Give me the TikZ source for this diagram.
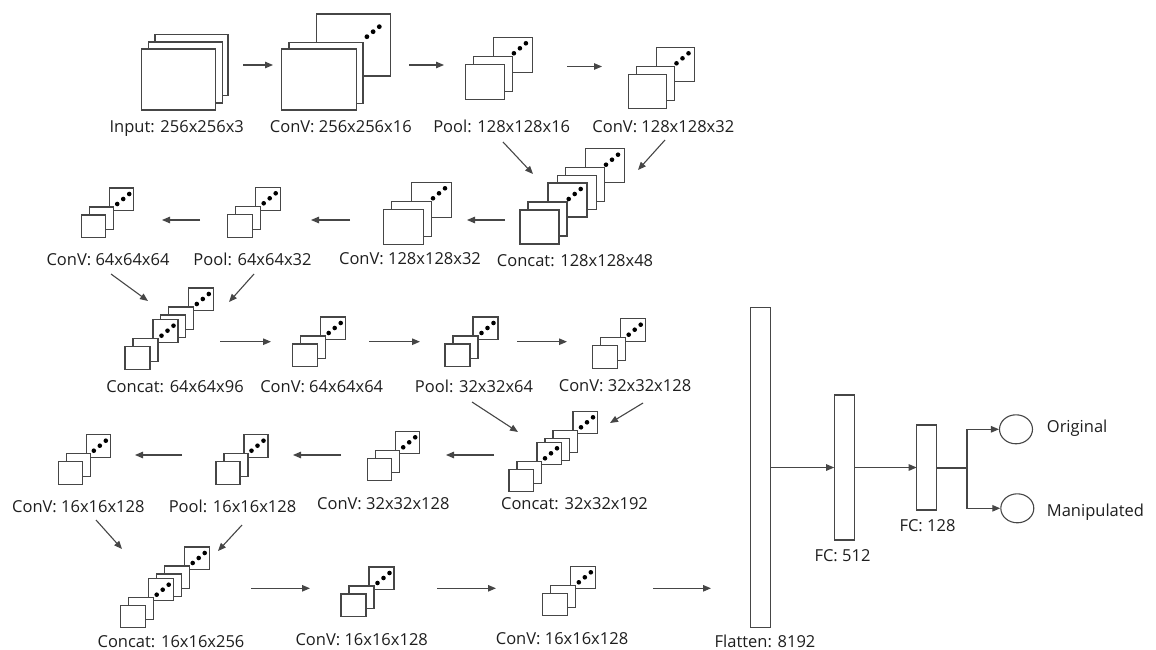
\documentclass[tikz,border=0pt]{standalone}
\usepackage{fontspec}
\setmainfont{Open Sans}
\usetikzlibrary{arrows.meta,shapes.geometric}
\definecolor{ln}{RGB}{70,70,70}
\definecolor{tx}{RGB}{30,30,30}
\tikzset{
  sq/.style={draw=ln, fill=white, line width=1.1pt, inner sep=0pt, outer sep=0pt, anchor=north west},
  bar/.style={draw=ln, fill=white, line width=1.1pt, inner sep=0pt, outer sep=0pt, minimum width=20pt},
  outn/.style={draw=ln, ellipse, line width=1.1pt, inner sep=0pt, minimum width=33pt, minimum height=29pt},
  arr/.style={draw=ln, line width=1.1pt, -{Triangle[length=8pt,width=6.5pt]}},
  lbl/.style={text=tx, font=\fontsize{16.5}{18}\selectfont, anchor=base, inner sep=0pt},
}
% stack: name, x, y (front top-left), w, h, dot x offset
\newcommand{\mystk}[6]{%
  \node[sq, minimum width=#4pt, minimum height=#5pt] (#1c) at (#2+28,#3-27) {};
  \fill (#1c.north east) ++(#6,6) circle (2.3pt) ++(-6,5) circle (2.3pt) ++(-6,5) circle (2.3pt);
  \node[sq, minimum width=#4pt, minimum height=#5pt] (#1b) at (#2+8,#3-8) {};
  \node[sq, minimum width=#4pt, minimum height=#5pt] (#1a) at (#2,#3) {};
}
\begin{document}
\begin{tikzpicture}[x=1pt,y=-1pt]
\useasboundingbox (0,0) rectangle (1156,650);

% ---------- Row 1 ----------
\node[sq, minimum width=73pt, minimum height=61pt] (in3) at (155,34.5) {};
\node[sq, minimum width=74pt, minimum height=61pt] (in2) at (148.3,42) {};
\node[sq, minimum width=74pt, minimum height=61pt] (in1) at (141.7,49) {};
\node[lbl] (lin) at (176.7,132) {Input: 256x256x3};

\node[sq, minimum width=74pt, minimum height=62pt] (cv1c) at (316.7,14) {};
\fill (cv1c.north east) ++(-11.4,12.7) circle (2.4pt) ++(-6.2,5) circle (2.4pt) ++(-6.2,5) circle (2.4pt);
\node[sq, minimum width=74pt, minimum height=61pt] (cv1b) at (289,42.3) {};
\node[sq, minimum width=75pt, minimum height=61pt] (cv1a) at (281.7,49) {};
\node[lbl] (lcv1) at (340.8,132) {ConV: 256x256x16};

\mystk{pl1}{465.7}{64.3}{38.5}{35}{-6.3}
\node[lbl] (lpl1) at (501.7,132) {Pool: 128x128x16};
\mystk{cv2}{628.3}{74.3}{38.5}{34}{-6.3}
\node[lbl] (lcv2) at (663.3,132) {ConV: 128x128x32};

% ---------- Row 2 ----------
\mystk{cc1B}{557.3}{175.7}{39}{34}{-6.3}
\mystk{cc1A}{520}{210}{39}{34}{-6.3}
\node[lbl] (lcc1) at (575,266) {Concat: 128x128x48};
\mystk{cv3}{383.3}{209.3}{40}{35}{-6.3}
\node[lbl] (lcv3) at (410,264.3) {ConV: 128x128x32};
\mystk{pl2}{227.7}{214.3}{24.5}{23}{-4.5}
\node[lbl] (lpl2) at (252.5,265) {Pool: 64x64x32};
\mystk{cv4}{81.7}{215}{24}{22.5}{-4.5}
\node[lbl] (lcv4) at (108,265) {ConV: 64x64x64};

% ---------- Row 3 ----------
\mystk{cc2B}{160.3}{315}{25}{22.5}{-4.5}
\mystk{cc2A}{125}{346.7}{25}{22.5}{-4.5}
\node[lbl] (lcc2) at (175,392) {Concat: 64x64x96};
\mystk{cv5}{292.7}{344}{24.5}{22.5}{-4.5}
\node[lbl] (lcv5) at (321.7,392.7) {ConV: 64x64x64};
\mystk{pl3}{445}{344}{25}{22.5}{-4.5}
\node[lbl] (lpl3) at (474,392) {Pool: 32x32x64};
\mystk{cv6}{592.7}{345.7}{24.5}{22.5}{-4.5}
\node[lbl] (lcv6) at (625,391.7) {ConV: 32x32x128};

% ---------- Row 4 ----------
\mystk{cc3B}{545}{438.3}{24.5}{22.5}{-4.5}
\mystk{cc3A}{509}{469.3}{24.5}{22.5}{-4.5}
\node[lbl] (lcc3) at (574.5,509) {Concat: 32x32x192};
\mystk{cv7}{367.7}{458.3}{24}{22.5}{-4.5}
\node[lbl] (lcv7) at (383.3,509.3) {ConV: 32x32x128};
\mystk{pl4}{216}{461.7}{24}{22.5}{-4.5}
\node[lbl] (lpl4) at (232.5,512.7) {Pool: 16x16x128};
\mystk{cv8}{58.3}{461.7}{24}{22.5}{-4.5}
\node[lbl] (lcv8) at (78.3,512.7) {ConV: 16x16x128};

% ---------- Row 5 ----------
\mystk{cc4B}{156.7}{574}{24.5}{22.5}{-4.5}
\mystk{cc4A}{120.7}{605.7}{24.5}{22}{-4.5}
\node[lbl] (lcc4) at (171,647) {Concat: 16x16x256};
\mystk{cv9}{341}{594}{25}{22.5}{-4.5}
\node[lbl] (lcv9) at (361.7,645.5) {ConV: 16x16x128};
\mystk{cv10}{542.3}{593.3}{25}{22.5}{-4.5}
\node[lbl] (lcv10) at (562,644) {ConV: 16x16x128};

% ---------- Dense part ----------
\node[bar, minimum height=320pt] (flat) at (760.7,467.5) {};
\node[lbl] (lflat) at (765,647.7) {Flatten: 8192};
\node[bar, minimum height=145pt] (fc1) at (844.2,467.5) {};
\node[lbl] (lfc1) at (842.5,561.7) {FC: 512};
\node[bar, minimum height=85pt] (fc2) at (926.7,467.5) {};
\node[lbl] (lfc2) at (927.5,531) {FC: 128};
\node[outn] (orig) at (1016,429.3) {};
\node[outn] (manip) at (1017.3,508.3) {};
\node[lbl, anchor=base west] (lorig) at (1046.7,432.7) {Original};
\node[lbl, anchor=base west] (lmanip) at (1046.7,516) {Manipulated};

% ---------- Connectors ----------
\coordinate (a1s) at (243,65);   \coordinate (a1e) at (273,65);
\coordinate (a2s) at (409,65);   \coordinate (a2e) at (444,65);
\coordinate (a3s) at (567,66.5); \coordinate (a3e) at (602,66.5);
\coordinate (d1s) at (503,142);  \coordinate (d1e) at (533,174);
\coordinate (d2s) at (665,140);  \coordinate (d2e) at (638,170);
\coordinate (b1s) at (505,220);  \coordinate (b1e) at (467,220);
\coordinate (b2s) at (350,220);  \coordinate (b2e) at (311,220);
\coordinate (b3s) at (200,220);  \coordinate (b3e) at (162,220);
\coordinate (d3s) at (111,274);  \coordinate (d3e) at (148,301);
\coordinate (d4s) at (254,274);  \coordinate (d4e) at (229,302);
\coordinate (c1s) at (220,341.7); \coordinate (c1e) at (271,341.7);
\coordinate (c2s) at (369,341.7); \coordinate (c2e) at (420,341.7);
\coordinate (c3s) at (517,341.7); \coordinate (c3e) at (567,341.7);
\coordinate (d5s) at (472,402);  \coordinate (d5e) at (518,432);
\coordinate (d6s) at (643,403);  \coordinate (d6e) at (610,423);
\coordinate (e1s) at (494,455);  \coordinate (e1e) at (446,455);
\coordinate (e2s) at (341,455);  \coordinate (e2e) at (293,455);
\coordinate (e3s) at (182,455);  \coordinate (e3e) at (135,455);
\coordinate (d7s) at (96,520);   \coordinate (d7e) at (122,549);
\coordinate (d8s) at (242,525);  \coordinate (d8e) at (218,551);
\coordinate (f1s) at (251,588.3); \coordinate (f1e) at (310,588.3);
\coordinate (f2s) at (437,588.3); \coordinate (f2e) at (496,588.3);
\coordinate (f3s) at (653,588.3); \coordinate (f3e) at (711,588.3);
\foreach \p in {a1,a2,a3,d1,d2,b1,b2,b3,d3,d4,c1,c2,c3,d5,d6,e1,e2,e3,d7,d8,f1,f2,f3}
  \draw[arr] (\p s) -- (\p e);

\draw[arr] (flat) -- (fc1);
\draw[arr] (fc1) -- (fc2);
\coordinate (jn) at (967,467.5);
\draw[draw=ln, line width=2pt] (fc2.east) -- (jn);
\draw[arr] (jn) |- (orig.west);
\draw[arr] (jn) |- (manip.west);
\end{tikzpicture}
\end{document}
